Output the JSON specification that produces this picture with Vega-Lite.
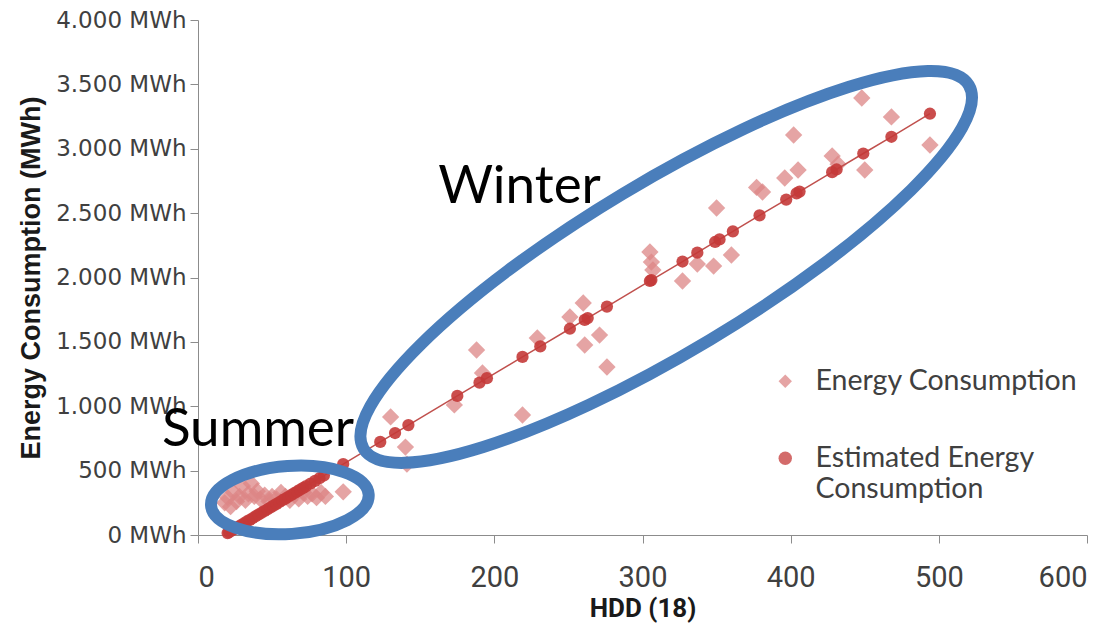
{
  "$schema": "https://vega.github.io/schema/vega-lite/v6.json",
  "width": 889,
  "height": 515,
  "autosize": {"type": "none"},
  "padding": {"left": 198, "top": 20, "right": 26, "bottom": 94},
  "background": "white",
  "config": {
    "view": {"stroke": null},
    "axis": {
      "grid": false,
      "domainColor": "#8c8c8c",
      "tickColor": "#8c8c8c",
      "tickSize": 8,
      "labelColor": "#404040",
      "titleColor": "#1a1a1a",
      "titleFontWeight": "bold"
    },
    "legend": {
      "orient": "none",
      "legendX": 573,
      "legendY": 347,
      "padding": 0,
      "labelFont": "Lato",
      "labelFontSize": 28.5,
      "labelColor": "#404040",
      "labelLimit": 500,
      "labelOffset": 16,
      "symbolSize": 180,
      "symbolStrokeWidth": 0,
      "rowPadding": 48,
      "labelBaseline": "middle"
    }
  },
  "datasets": {
    "obs": [
      {"series": "Energy Consumption", "hdd": 18, "mwh": 250},
      {"series": "Energy Consumption", "hdd": 20, "mwh": 290},
      {"series": "Energy Consumption", "hdd": 22, "mwh": 220},
      {"series": "Energy Consumption", "hdd": 24, "mwh": 330},
      {"series": "Energy Consumption", "hdd": 26, "mwh": 260},
      {"series": "Energy Consumption", "hdd": 28, "mwh": 300},
      {"series": "Energy Consumption", "hdd": 30, "mwh": 380},
      {"series": "Energy Consumption", "hdd": 32, "mwh": 270},
      {"series": "Energy Consumption", "hdd": 34, "mwh": 320},
      {"series": "Energy Consumption", "hdd": 36, "mwh": 400},
      {"series": "Energy Consumption", "hdd": 38, "mwh": 300},
      {"series": "Energy Consumption", "hdd": 40, "mwh": 340},
      {"series": "Energy Consumption", "hdd": 42, "mwh": 280},
      {"series": "Energy Consumption", "hdd": 45, "mwh": 310},
      {"series": "Energy Consumption", "hdd": 48, "mwh": 260},
      {"series": "Energy Consumption", "hdd": 50, "mwh": 300},
      {"series": "Energy Consumption", "hdd": 53, "mwh": 280},
      {"series": "Energy Consumption", "hdd": 56, "mwh": 330},
      {"series": "Energy Consumption", "hdd": 59, "mwh": 300},
      {"series": "Energy Consumption", "hdd": 62, "mwh": 270},
      {"series": "Energy Consumption", "hdd": 65, "mwh": 310},
      {"series": "Energy Consumption", "hdd": 68, "mwh": 280},
      {"series": "Energy Consumption", "hdd": 71, "mwh": 330},
      {"series": "Energy Consumption", "hdd": 74, "mwh": 300},
      {"series": "Energy Consumption", "hdd": 77, "mwh": 320},
      {"series": "Energy Consumption", "hdd": 80, "mwh": 290},
      {"series": "Energy Consumption", "hdd": 83, "mwh": 330},
      {"series": "Energy Consumption", "hdd": 86, "mwh": 300},
      {"series": "Energy Consumption", "hdd": 98, "mwh": 335},
      {"series": "Energy Consumption", "hdd": 130, "mwh": 917},
      {"series": "Energy Consumption", "hdd": 140, "mwh": 683},
      {"series": "Energy Consumption", "hdd": 141, "mwh": 550},
      {"series": "Energy Consumption", "hdd": 173, "mwh": 1010},
      {"series": "Energy Consumption", "hdd": 188, "mwh": 1437},
      {"series": "Energy Consumption", "hdd": 192, "mwh": 1258},
      {"series": "Energy Consumption", "hdd": 219, "mwh": 932},
      {"series": "Energy Consumption", "hdd": 229, "mwh": 1530},
      {"series": "Energy Consumption", "hdd": 251, "mwh": 1693},
      {"series": "Energy Consumption", "hdd": 260, "mwh": 1802},
      {"series": "Energy Consumption", "hdd": 261, "mwh": 1476},
      {"series": "Energy Consumption", "hdd": 271, "mwh": 1553},
      {"series": "Energy Consumption", "hdd": 276, "mwh": 1305},
      {"series": "Energy Consumption", "hdd": 305, "mwh": 2198},
      {"series": "Energy Consumption", "hdd": 306, "mwh": 2120},
      {"series": "Energy Consumption", "hdd": 307, "mwh": 2058},
      {"series": "Energy Consumption", "hdd": 327, "mwh": 1973},
      {"series": "Energy Consumption", "hdd": 337, "mwh": 2105},
      {"series": "Energy Consumption", "hdd": 348, "mwh": 2089},
      {"series": "Energy Consumption", "hdd": 360, "mwh": 2175},
      {"series": "Energy Consumption", "hdd": 350, "mwh": 2540},
      {"series": "Energy Consumption", "hdd": 377, "mwh": 2700},
      {"series": "Energy Consumption", "hdd": 381, "mwh": 2664},
      {"series": "Energy Consumption", "hdd": 396, "mwh": 2773},
      {"series": "Energy Consumption", "hdd": 405, "mwh": 2835},
      {"series": "Energy Consumption", "hdd": 402, "mwh": 3107},
      {"series": "Energy Consumption", "hdd": 428, "mwh": 2944},
      {"series": "Energy Consumption", "hdd": 432, "mwh": 2880},
      {"series": "Energy Consumption", "hdd": 450, "mwh": 2835},
      {"series": "Energy Consumption", "hdd": 448, "mwh": 3394},
      {"series": "Energy Consumption", "hdd": 468, "mwh": 3247},
      {"series": "Energy Consumption", "hdd": 494, "mwh": 3029},
      {"series": "Estimated Energy Consumption", "hdd": 20, "mwh": 15},
      {"series": "Estimated Energy Consumption", "hdd": 21, "mwh": 22},
      {"series": "Estimated Energy Consumption", "hdd": 23, "mwh": 36},
      {"series": "Estimated Energy Consumption", "hdd": 25, "mwh": 50},
      {"series": "Estimated Energy Consumption", "hdd": 27, "mwh": 63},
      {"series": "Estimated Energy Consumption", "hdd": 29, "mwh": 77},
      {"series": "Estimated Energy Consumption", "hdd": 31, "mwh": 91},
      {"series": "Estimated Energy Consumption", "hdd": 33, "mwh": 105},
      {"series": "Estimated Energy Consumption", "hdd": 35, "mwh": 118},
      {"series": "Estimated Energy Consumption", "hdd": 37, "mwh": 132},
      {"series": "Estimated Energy Consumption", "hdd": 39, "mwh": 146},
      {"series": "Estimated Energy Consumption", "hdd": 41, "mwh": 160},
      {"series": "Estimated Energy Consumption", "hdd": 43, "mwh": 173},
      {"series": "Estimated Energy Consumption", "hdd": 45, "mwh": 187},
      {"series": "Estimated Energy Consumption", "hdd": 47, "mwh": 201},
      {"series": "Estimated Energy Consumption", "hdd": 49, "mwh": 215},
      {"series": "Estimated Energy Consumption", "hdd": 51, "mwh": 228},
      {"series": "Estimated Energy Consumption", "hdd": 53, "mwh": 242},
      {"series": "Estimated Energy Consumption", "hdd": 55, "mwh": 256},
      {"series": "Estimated Energy Consumption", "hdd": 57, "mwh": 270},
      {"series": "Estimated Energy Consumption", "hdd": 59, "mwh": 283},
      {"series": "Estimated Energy Consumption", "hdd": 61, "mwh": 297},
      {"series": "Estimated Energy Consumption", "hdd": 63, "mwh": 311},
      {"series": "Estimated Energy Consumption", "hdd": 65, "mwh": 325},
      {"series": "Estimated Energy Consumption", "hdd": 67, "mwh": 338},
      {"series": "Estimated Energy Consumption", "hdd": 69, "mwh": 352},
      {"series": "Estimated Energy Consumption", "hdd": 71, "mwh": 366},
      {"series": "Estimated Energy Consumption", "hdd": 73, "mwh": 380},
      {"series": "Estimated Energy Consumption", "hdd": 76, "mwh": 400},
      {"series": "Estimated Energy Consumption", "hdd": 79, "mwh": 421},
      {"series": "Estimated Energy Consumption", "hdd": 82, "mwh": 441},
      {"series": "Estimated Energy Consumption", "hdd": 85, "mwh": 462},
      {"series": "Estimated Energy Consumption", "hdd": 98, "mwh": 551},
      {"series": "Estimated Energy Consumption", "hdd": 123, "mwh": 723},
      {"series": "Estimated Energy Consumption", "hdd": 133, "mwh": 792},
      {"series": "Estimated Energy Consumption", "hdd": 142, "mwh": 854},
      {"series": "Estimated Energy Consumption", "hdd": 175, "mwh": 1080},
      {"series": "Estimated Energy Consumption", "hdd": 190, "mwh": 1183},
      {"series": "Estimated Energy Consumption", "hdd": 195, "mwh": 1218},
      {"series": "Estimated Energy Consumption", "hdd": 219, "mwh": 1383},
      {"series": "Estimated Energy Consumption", "hdd": 231, "mwh": 1465},
      {"series": "Estimated Energy Consumption", "hdd": 251, "mwh": 1602},
      {"series": "Estimated Energy Consumption", "hdd": 261, "mwh": 1671},
      {"series": "Estimated Energy Consumption", "hdd": 263, "mwh": 1685},
      {"series": "Estimated Energy Consumption", "hdd": 276, "mwh": 1774},
      {"series": "Estimated Energy Consumption", "hdd": 305, "mwh": 1973},
      {"series": "Estimated Energy Consumption", "hdd": 306, "mwh": 1980},
      {"series": "Estimated Energy Consumption", "hdd": 327, "mwh": 2124},
      {"series": "Estimated Energy Consumption", "hdd": 337, "mwh": 2193},
      {"series": "Estimated Energy Consumption", "hdd": 349, "mwh": 2276},
      {"series": "Estimated Energy Consumption", "hdd": 352, "mwh": 2296},
      {"series": "Estimated Energy Consumption", "hdd": 361, "mwh": 2358},
      {"series": "Estimated Energy Consumption", "hdd": 379, "mwh": 2482},
      {"series": "Estimated Energy Consumption", "hdd": 397, "mwh": 2605},
      {"series": "Estimated Energy Consumption", "hdd": 404, "mwh": 2653},
      {"series": "Estimated Energy Consumption", "hdd": 406, "mwh": 2667},
      {"series": "Estimated Energy Consumption", "hdd": 428, "mwh": 2818},
      {"series": "Estimated Energy Consumption", "hdd": 431, "mwh": 2839},
      {"series": "Estimated Energy Consumption", "hdd": 449, "mwh": 2963},
      {"series": "Estimated Energy Consumption", "hdd": 468, "mwh": 3093},
      {"series": "Estimated Energy Consumption", "hdd": 494, "mwh": 3272}
    ],
    "regions": [
      {"region": "Winter", "hdd": 316, "mwh": 2082},
      {"region": "Summer", "hdd": 62, "mwh": 272}
    ],
    "notes": [
      {"note": "Winter", "hdd": 217, "mwh": 2700},
      {"note": "Summer", "hdd": 40.5, "mwh": 815}
    ]
  },
  "encoding": {
    "x": {
      "field": "hdd",
      "type": "quantitative",
      "scale": {"domain": [0, 600], "nice": false, "zero": false},
      "axis": {
        "title": "HDD (18)",
        "values": [0, 100, 200, 300, 400, 500, 600],
        "labelFont": "Roboto",
        "labelFontSize": 29,
        "labelPadding": 20,
        "titleFont": "Roboto",
        "titleFontSize": 26,
        "titlePadding": 3
      }
    },
    "y": {
      "field": "mwh",
      "type": "quantitative",
      "scale": {"domain": [0, 4000], "nice": false, "zero": false},
      "axis": {
        "title": "Energy Consumption (MWh)",
        "values": [0, 500, 1000, 1500, 2000, 2500, 3000, 3500, 4000],
        "labelExpr": "replace(format(datum.value, ','), ',', '.') + ' MWh'",
        "labelFont": "DejaVu Sans",
        "labelFontSize": 23,
        "labelPadding": 4,
        "titleFont": "Liberation Sans",
        "titleFontSize": 27,
        "titlePadding": 10
      }
    }
  },
  "layer": [
    {
      "data": {"name": "obs"},
      "transform": [{"filter": "datum.series === 'Energy Consumption'"}],
      "mark": {"type": "point", "filled": true, "size": 300, "opacity": 0.75},
      "encoding": {
        "color": {
          "field": "series",
          "type": "nominal",
          "scale": {"domain": ["Energy Consumption", "Estimated Energy Consumption"], "range": ["#DC8585", "#C43A38"]},
          "legend": {"title": null, "labelExpr": "datum.label == 'Estimated Energy Consumption' ? ['Estimated Energy', 'Consumption'] : datum.label"}
        },
        "shape": {
          "field": "series",
          "type": "nominal",
          "scale": {"domain": ["Energy Consumption", "Estimated Energy Consumption"], "range": ["diamond", "circle"]},
          "legend": {"title": null, "labelExpr": "datum.label == 'Estimated Energy Consumption' ? ['Estimated Energy', 'Consumption'] : datum.label"}
        }
      }
    },
    {
      "data": {"name": "obs"},
      "transform": [{"filter": "datum.series === 'Estimated Energy Consumption'"}],
      "mark": {"type": "line", "color": "#C0504D", "strokeWidth": 1.5},
      "encoding": {"order": {"field": "hdd", "type": "quantitative"}}
    },
    {
      "data": {"name": "obs"},
      "transform": [{"filter": "datum.series === 'Estimated Energy Consumption'"}],
      "mark": {"type": "point", "filled": true, "size": 150, "opacity": 0.9},
      "encoding": {
        "color": {"field": "series", "type": "nominal"},
        "shape": {"field": "series", "type": "nominal"}
      }
    },
    {
      "data": {"name": "regions"},
      "transform": [{"filter": "datum.region === 'Winter'"}],
      "mark": {
        "type": "point",
        "filled": false,
        "shape": "M -1 0 C -1 -0.1331 -0.5523 -0.241 0 -0.241 C 0.5523 -0.241 1 -0.1331 1 0 C 1 0.1331 0.5523 0.241 0 0.241 C -0.5523 0.241 -1 0.1331 -1 0 Z",
        "size": 498436,
        "angle": 329,
        "stroke": "#4A7EBB",
        "strokeWidth": 12,
        "opacity": 1
      }
    },
    {
      "data": {"name": "regions"},
      "transform": [{"filter": "datum.region === 'Summer'"}],
      "mark": {
        "type": "point",
        "filled": false,
        "shape": "M -1 0 C -1 -0.2375 -0.5523 -0.43 0 -0.43 C 0.5523 -0.43 1 -0.2375 1 0 C 1 0.2375 0.5523 0.43 0 0.43 C -0.5523 0.43 -1 0.2375 -1 0 Z",
        "size": 24964,
        "angle": 356,
        "stroke": "#4A7EBB",
        "strokeWidth": 12,
        "opacity": 1
      }
    },
    {
      "data": {"name": "notes"},
      "mark": {"type": "text", "font": "Lato", "fontSize": 53, "color": "#000000", "align": "center", "baseline": "middle"},
      "encoding": {"text": {"field": "note"}}
    }
  ]
}
